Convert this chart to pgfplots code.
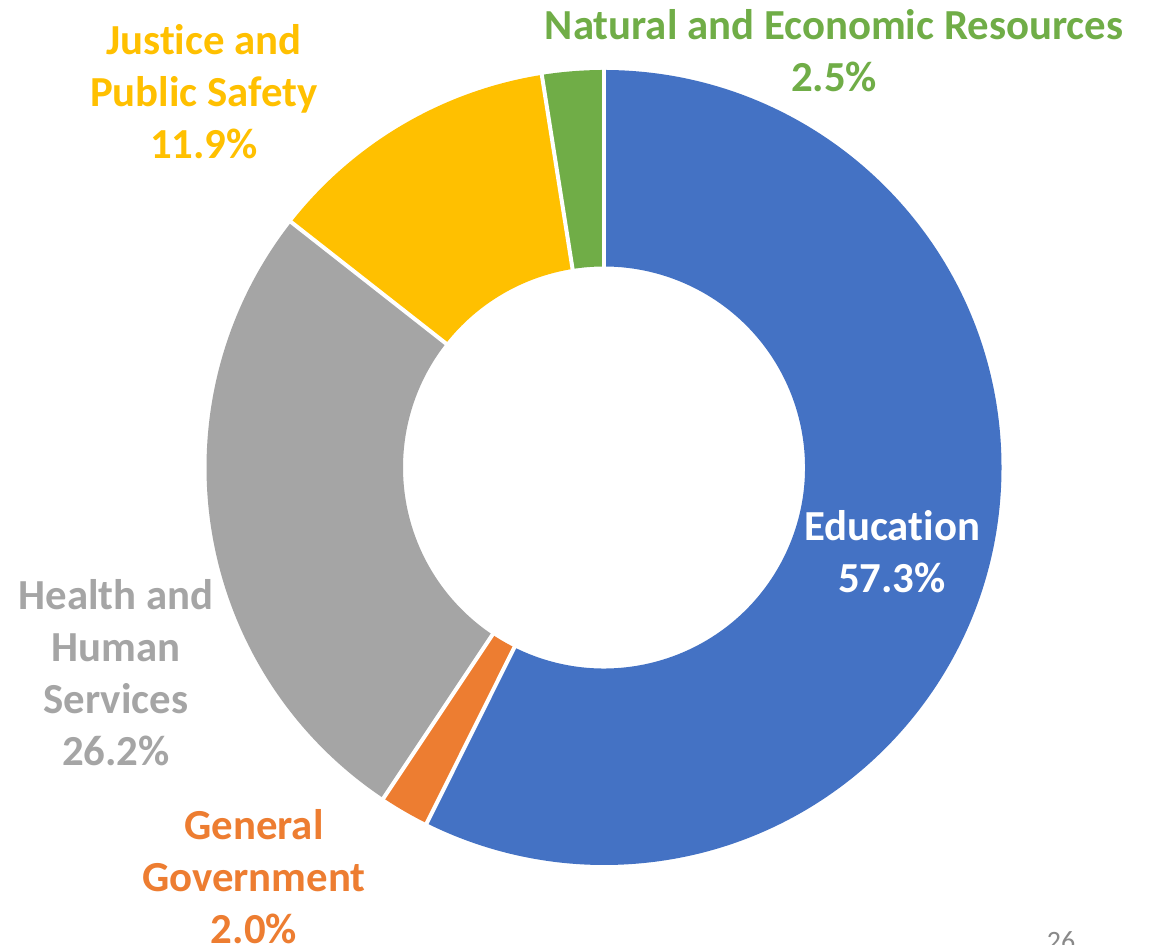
\documentclass[border=0pt]{standalone}
\usepackage{pgfplots}
\pgfplotsset{compat=1.18}
\usepackage{pgfplotstable}
\usepackage{fontspec}
\setmainfont{Carlito}[Ligatures=NoCommon]

\definecolor{edu}{HTML}{4472C4}
\definecolor{gov}{HTML}{ED7D31}
\definecolor{hhs}{HTML}{A5A5A5}
\definecolor{jps}{HTML}{FFC000}
\definecolor{ner}{HTML}{70AD47}
\definecolor{pagenum}{HTML}{898989}

% shares in %, clockwise from 12 o'clock
\pgfplotstableread{
sector share
Education 57.3
General 2.0
Health 26.2
Justice 11.9
Natural 2.5
}\shares

\pgfplotstablegetelem{0}{share}\of\shares \let\sA\pgfplotsretval
\pgfplotstablegetelem{1}{share}\of\shares \let\sB\pgfplotsretval
\pgfplotstablegetelem{2}{share}\of\shares \let\sC\pgfplotsretval
\pgfplotstablegetelem{3}{share}\of\shares \let\sD\pgfplotsretval
\pgfplotstablegetelem{4}{share}\of\shares \let\sE\pgfplotsretval
\pgfmathsetmacro\total{\sA+\sB+\sC+\sD+\sE}
\pgfmathsetmacro\aA{90}
\pgfmathsetmacro\aB{\aA-360*(\sA/\total)}
\pgfmathsetmacro\aC{\aB-360*(\sB/\total)}
\pgfmathsetmacro\aD{\aC-360*(\sC/\total)}
\pgfmathsetmacro\aE{\aD-360*(\sD/\total)}
\pgfmathsetmacro\aF{\aE-360*(\sE/\total)}

% ring geometry (axis units = pixels, 1 unit = 0.5pt)
\def\cx{604}\def\cy{477.5}
\def\ro{397.5}\def\ri{201}
\pgfmathsetmacro\rop{0.5*\ro}
\pgfmathsetmacro\rip{0.5*\ri}

\newcommand\slice[3]{%
  \fill[#3] (axis cs:{\cx+\ro*cos(#1)},{\cy+\ro*sin(#1)})
    arc[start angle=#1, end angle=#2, radius=\rop pt]
    -- (axis cs:{\cx+\ri*cos(#2)},{\cy+\ri*sin(#2)})
    arc[start angle=#2, end angle=#1, radius=\rip pt] -- cycle;}
\newcommand\gap[1]{%
  \draw[white, line width=2pt]
    (axis cs:{\cx+(\ri-3)*cos(#1)},{\cy+(\ri-3)*sin(#1)})
    -- (axis cs:{\cx+(\ro+3)*cos(#1)},{\cy+(\ro+3)*sin(#1)});}

\tikzset{lbl/.style={font=\bfseries\fontsize{21.4}{26}\selectfont, align=center, inner sep=0pt}}

\begin{document}
\begin{tikzpicture}
\begin{axis}[
    hide axis,
    scale only axis,
    x=0.5pt, y=0.5pt,
    xmin=0, xmax=1155,
    ymin=0, ymax=945,
    clip=false,
]
\fill[white] (axis cs:0,0) rectangle (axis cs:1155,945);

\slice{\aA}{\aB}{edu}
\slice{\aB}{\aC}{gov}
\slice{\aC}{\aD}{hhs}
\slice{\aD}{\aE}{jps}
\slice{\aE}{\aF}{ner}
\gap{\aA}\gap{\aB}\gap{\aC}\gap{\aD}\gap{\aE}

\node[lbl, text=ner] at (axis cs:834,894) {Natural and Economic Resources\\2.5\%};
\node[lbl, text=jps] at (axis cs:204,853) {Justice and\\Public Safety\\11.9\%};
\node[lbl, text=white] at (axis cs:892,393.5) {Education\\57.3\%};
\node[lbl, text=hhs] at (axis cs:116,272.5) {Health and\\Human\\Services\\26.2\%};
\node[lbl, text=gov] at (axis cs:254,68.5) {General\\Government\\2.0\%};
\node[font=\fontsize{14}{17}\selectfont, text=pagenum, anchor=base] at (axis cs:1061,-6) {26};
\end{axis}
\pgfresetboundingbox
\useasboundingbox (current axis.south west) rectangle (current axis.north east);
\end{tikzpicture}
\end{document}
